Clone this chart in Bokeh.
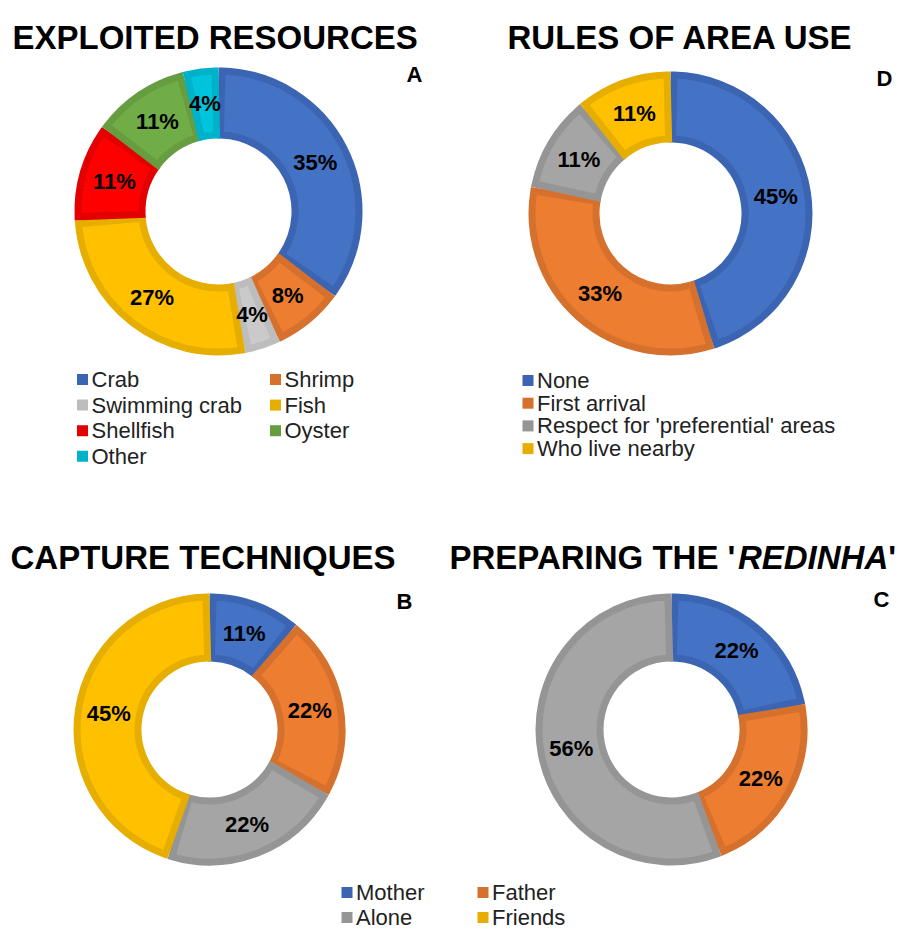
import math
from bokeh.plotting import figure
from bokeh.models import Range1d, ColumnDataSource
from bokeh.core.properties import value
from bokeh.embed import file_html
from bokeh.resources import INLINE

# ---------------- data ----------------
a_categories = ["Crab", "Shrimp", "Swimming crab", "Fish", "Shellfish", "Oyster", "Other"]
a_values = [35, 8, 4, 27, 11, 11, 4]

d_categories = ["None", "First arrival", "Respect for 'preferential' areas", "Who live nearby"]
d_values = [45, 33, 11, 11]

bc_categories = ["Mother", "Father", "Alone", "Friends"]
b_values = [11, 22, 22, 45]
c_values = [22, 22, 56, 0]

title_a = "EXPLOITED RESOURCES"
title_d = "RULES OF AREA USE"
title_b = "CAPTURE TECHNIQUES"
title_c_pre = "PREPARING THE '"
title_c_it = "REDINHA"
title_c_post = "'"
panel_letters = ["A", "D", "B", "C"]

# ---------------- styles ----------------
BLUE, BLUE_B = "#4472C4", "#3B65B3"
ORANGE, ORANGE_B = "#ED7D31", "#D6712D"
GRAY, GRAY_B = "#A5A5A5", "#959595"
YELLOW, YELLOW_B = "#FFC000", "#E6AE00"
LGRAY, LGRAY_B = "#CACACA", "#BDBDBD"
RED, RED_B = "#FF0000", "#E30000"
GREEN, GREEN_B = "#70AD47", "#659D40"
CYAN, CYAN_B = "#00C3DC", "#00B2C9"

a_fill = [BLUE, ORANGE, LGRAY, YELLOW, RED, GREEN, CYAN]
a_border = [BLUE_B, ORANGE_B, LGRAY_B, YELLOW_B, RED_B, GREEN_B, CYAN_B]
d_fill = [BLUE, ORANGE, GRAY, YELLOW]
d_border = [BLUE_B, ORANGE_B, GRAY_B, YELLOW_B]
bc_fill = [BLUE, ORANGE, GRAY, YELLOW]
bc_border = [BLUE_B, ORANGE_B, GRAY_B, YELLOW_B]

FONT = value("Liberation Sans")
W, H = 899, 930


def fx(px):
    return px


def fy(py):
    return H - py


p = figure(width=W, height=H, output_backend="svg", toolbar_location=None,
           x_range=Range1d(0, W), y_range=Range1d(0, H),
           x_axis_type=None, y_axis_type=None, min_border=0)
p.outline_line_color = None
p.grid.visible = False
p.background_fill_color = "white"
p.border_fill_color = "white"

BW = 7  # border band width


def donut(values, fills, borders, cx, cy, R, r):
    total = float(sum(values))
    cum = 0.0
    xs, ys, sa, ea, fc, lc = [], [], [], [], [], []
    lx, ly, lt = [], [], []
    inset = (BW / 2.0) / (R - BW / 2.0)
    for v, f, b in zip(values, fills, borders):
        if v <= 0:
            continue
        a0 = math.pi / 2 - 2 * math.pi * cum / total
        a1 = math.pi / 2 - 2 * math.pi * (cum + v) / total
        xs.append(fx(cx)); ys.append(fy(cy))
        sa.append(a0 - inset); ea.append(a1 + inset)
        fc.append(f); lc.append(b)
        am = (a0 + a1) / 2
        rm = (R + r) / 2.0
        lx.append(fx(cx) + rm * math.cos(am))
        ly.append(fy(cy) + rm * math.sin(am))
        lt.append("%d%%" % v)
        cum += v
    src = ColumnDataSource(dict(x=xs, y=ys, sa=sa, ea=ea, fc=fc, lc=lc))
    p.annular_wedge(x="x", y="y", inner_radius=r + BW / 2.0, outer_radius=R - BW / 2.0,
                    start_angle="sa", end_angle="ea", direction="clock",
                    fill_color="fc", line_color="lc", line_width=BW,
                    line_join="miter", source=src)
    lsrc = ColumnDataSource(dict(x=lx, y=ly, t=lt))
    p.text(x="x", y="y", text="t", source=lsrc, text_font=FONT,
           text_font_style="bold", text_font_size="22px", text_color="#000000",
           text_align="center", text_baseline="middle")


def legend(cats, colors, x0, y0, dx, dy, ncols):
    xs, ys = [], []
    for i in range(len(cats)):
        col = i % ncols
        row = i // ncols
        xs.append(fx(x0 + col * dx))
        ys.append(fy(y0 + row * dy))
    src = ColumnDataSource(dict(x=xs, y=ys, c=colors, t=cats))
    p.rect(x="x", y="y", width=11, height=11, fill_color="c", line_color=None, source=src)
    p.text(x="x", y="y", text="t", source=src, text_font=FONT, text_font_size="22px",
           text_color="#222222", text_align="left", text_baseline="middle",
           x_offset=9)


# donuts
donut(a_values, a_fill, a_border, 218, 211, 144, 73)
donut(d_values, d_fill, d_border, 670, 213, 142, 71)
donut(b_values, bc_fill, bc_border, 209, 729, 136, 68)
donut(c_values, bc_fill, bc_border, 671, 729, 136, 68)

# legends
legend(a_categories, a_border, 82, 379, 193, 25.6, 2)
legend(d_categories, d_border, 527.5, 380, 0, 22.7, 1)
legend(bc_categories, bc_border, 346.5, 892, 136, 25, 2)


# titles
def title(txt, x, y, style="bold"):
    p.text(x=[fx(x)], y=[fy(y)], text=[txt], text_font=FONT, text_font_style=style,
           text_font_size="33px", text_color="#000000", text_align="left",
           text_baseline="alphabetic")


title(title_a, 12, 37)
title(title_d, 507, 37)
title(title_b, 10, 557)
c_x0 = 449
title(title_c_pre, c_x0, 557)
w_pre = 8.739 * 33
title(title_c_it, c_x0 + w_pre, 557, style="bold italic")
title(title_c_post, c_x0 + w_pre + 4.555 * 33, 557)

# panel letters
letter_pos = [(414, 74), (884, 78), (404, 601), (881, 599)]
p.text(x=[fx(x) for x, _ in letter_pos], y=[fy(y) for _, y in letter_pos],
       text=panel_letters, text_font=FONT, text_font_style="bold",
       text_font_size="22px", text_color="#000000", text_align="center",
       text_baseline="middle")

open("out.html", "w").write(file_html(p, INLINE))
